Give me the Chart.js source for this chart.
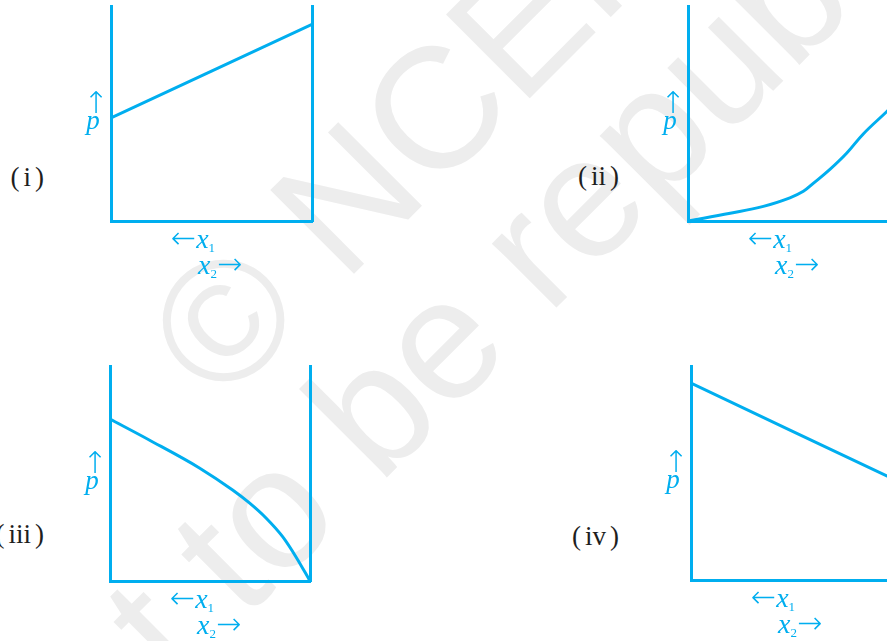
<!DOCTYPE html>
<html>
<head>
<meta charset="utf-8">
<script src="https://cdn.jsdelivr.net/npm/chart.js@4"></script>
<style>
  html, body { margin: 0; padding: 0; background: #fff; }
  body { position: relative; width: 887px; height: 641px; overflow: hidden; }
  canvas { position: absolute; }
  .wm { position: absolute; left: 0; top: 0; width: 0; height: 0; transform-origin: 0 0; transform: rotate(-45deg); }
  .wm div { position: absolute; left: -750px; width: 2000px; text-align: center; white-space: nowrap;
            font: 172px/1 "Liberation Sans", Arial, sans-serif; color: #ededed; }
  .t { position: absolute; white-space: nowrap; line-height: 1; }
  .lab { font: 27px/1 "Liberation Serif", "Times New Roman", serif; color: #1e1e1e; }
  .lab span { margin: 0 4px; }
  .p { font: italic 27px/1 "Liberation Serif", serif; color: #00aeef; }
  .ax { font: italic 28px/1 "Liberation Serif", serif; color: #00aeef; }
  .ax sub { font: normal 13px/1 "Liberation Serif", serif; vertical-align: -4px; }
  .arr { font-family: "DejaVu Sans", sans-serif; font-style: normal; font-weight: 200; font-size: 30px; }
</style>
</head>
<body>
<div class="wm">
  <div style="top:298px">© NCERT</div>
  <div style="top:465px">not to be republished</div>
</div>
<canvas id="c1" width="213" height="227" style="left:105px;top:0px"></canvas>
<canvas id="c2" width="213" height="227" style="left:682px;top:0px"></canvas>
<canvas id="c3" width="212" height="227" style="left:104px;top:360px"></canvas>
<canvas id="c4" width="212" height="226" style="left:685px;top:360px"></canvas>
<script>
const x1Data = [0, 1];
const p1Data = [0.48, 0.915];

const x2Data = [0, 0.21, 0.375, 0.507, 0.574, 0.623, 0.706, 0.789, 0.872, 0.988, 1];
const p2Data = [0, 0.036, 0.068, 0.108, 0.138, 0.175, 0.24, 0.315, 0.405, 0.508, 0.52];

const x3Data = [0, 0.196, 0.447, 0.613, 0.697, 0.78, 0.864, 0.93, 1];
const p3Data = [0.753, 0.656, 0.526, 0.423, 0.363, 0.293, 0.205, 0.112, 0];

const x4Data = [0, 1];
const p4Data = [0.92, 0.477];

const panelNames = ['i', 'ii', 'iii', 'iv'];

const BLUE = '#00aeef';

function axis(pos, which) {
  return {
    type: 'linear', axis: which, position: pos, min: 0, max: 1,
    grid: { display: false, drawTicks: false },
    ticks: { display: false },
    border: { display: true, color: BLUE, width: 3 }
  };
}

function makePanel(id, xs, ps, mode) {
  new Chart(document.getElementById(id), {
    type: 'line',
    data: {
      datasets: [{
        data: xs.map((x, i) => ({ x: x, y: ps[i] })),
        borderColor: BLUE,
        borderWidth: 3,
        pointRadius: 0,
        tension: 0.4,
        cubicInterpolationMode: mode,
        fill: false
      }]
    },
    options: {
      responsive: false,
      animation: false,
      events: [],
      layout: { padding: 6 },
      plugins: { legend: { display: false }, tooltip: { enabled: false } },
      scales: {
        x: axis('bottom', 'x'),
        y: axis('left', 'y'),
        yR: axis('right', 'y')
      }
    }
  });
}

makePanel('c1', x1Data, p1Data, 'default');
makePanel('c2', x2Data, p2Data, 'default');
makePanel('c3', x3Data, p3Data, 'monotone');
makePanel('c4', x4Data, p4Data, 'default');

// text around each panel, placed from the plot corner (left axis, bottom axis)
function put(html, cls, x, base, size, align) {
  const d = document.createElement('div');
  d.className = 't ' + cls;
  d.innerHTML = html;
  d.style.top = (base - 0.84 * size) + 'px';
  d.style.left = x + 'px';
  if (align === 'right') d.style.transform = 'translateX(-100%)';
  if (align === 'center') d.style.transform = 'translateX(-50%)';
  document.body.appendChild(d);
}

const corners = [[111, 221], [688, 221], [110, 581], [691, 580]];
const labelRight = [44, 619, 44, 619];
const labelBase = [187, 186, 544, 546];

corners.forEach(([ox, oy], i) => {
  put('(<span>' + panelNames[i] + '</span>)', 'lab', labelRight[i], labelBase[i], 27, 'right');
  put('↑', 'p arr', ox - 15, oy - 108, 30, 'center');
  put('p', 'p', ox - 18, oy - 91, 27, 'center');
  put('<span class="arr">←</span>x<sub>1</sub>', 'ax', ox + 60, oy + 26, 28);
  put('x<sub>2</sub><span class="arr">→</span>', 'ax', ox + 87, oy + 52, 28);
});
</script>
</body>
</html>
